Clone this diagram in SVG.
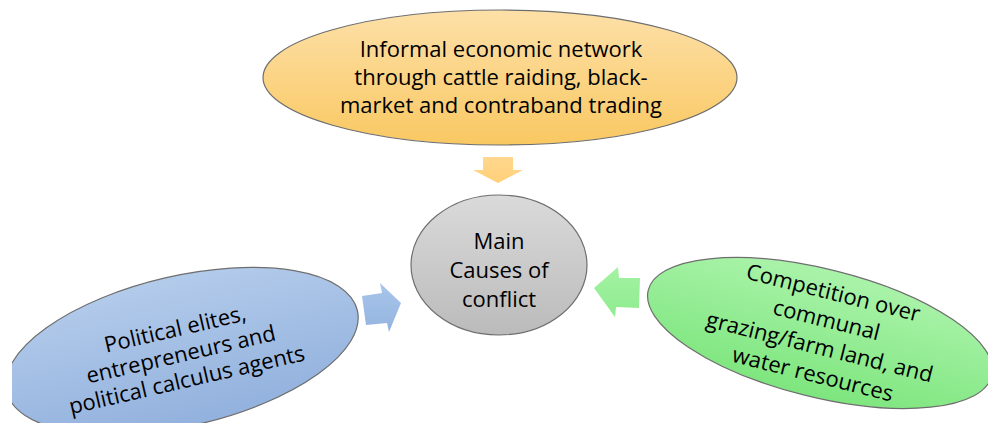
<svg xmlns="http://www.w3.org/2000/svg" width="988" height="423" viewBox="0 0 988 423">
<defs>
<linearGradient id="gOrange" x1="0" y1="0" x2="0" y2="1"><stop offset="0" stop-color="#FDE0A8"/><stop offset="1" stop-color="#F9C862"/></linearGradient>
<linearGradient id="gGray" x1="0" y1="0" x2="0" y2="1"><stop offset="0" stop-color="#DADADA"/><stop offset="1" stop-color="#BBBBBB"/></linearGradient>
<linearGradient id="gBlue" x1="0" y1="0" x2="0" y2="1"><stop offset="0" stop-color="#B3CBEB"/><stop offset="1" stop-color="#92B1DD"/></linearGradient>
<linearGradient id="gGreen" x1="0" y1="0" x2="0" y2="1"><stop offset="0" stop-color="#AAF3AA"/><stop offset="1" stop-color="#7EE67E"/></linearGradient>
<linearGradient id="aOrange" x1="0" y1="0" x2="0" y2="1"><stop offset="0" stop-color="#FFD78E"/><stop offset="1" stop-color="#FFD078"/></linearGradient>
<linearGradient id="aBlue" x1="0" y1="0" x2="0" y2="1"><stop offset="0" stop-color="#A9C5EA"/><stop offset="1" stop-color="#93B4E0"/></linearGradient>
<linearGradient id="aGreen" x1="0" y1="0" x2="0" y2="1"><stop offset="0" stop-color="#A4F2A4"/><stop offset="1" stop-color="#8EEC8E"/></linearGradient>
<clipPath id="clipLeft"><rect x="12" y="0" width="976" height="423"/></clipPath>
</defs>
<style>
.shape{stroke:#6E6E6E;stroke-width:1.2}
.lbl{font-family:"Open Sans","Liberation Sans",sans-serif;font-size:22px;fill:#000;text-anchor:middle}
</style>
<g id="connectors">
<polygon id="arrow-top" fill="url(#aOrange)" points="483,157 513,157 513,170 523,170 498,183 473,170 483,170"/>
<polygon id="arrow-left" fill="url(#aBlue)" points="362,296 382,293 380,283 401,303 389,332 387,323 366,325"/>
<polygon id="arrow-right" fill="url(#aGreen)" points="594,288 618,267 619,278 640,278 639,308 616,307 615,317"/>
</g>
<g id="node-top">
<ellipse class="shape" cx="500" cy="77.5" rx="237" ry="67.5" fill="url(#gOrange)"/>
<text class="lbl" x="501" y="57">Informal economic network</text>
<text class="lbl" x="501" y="85">through cattle raiding, black-</text>
<text class="lbl" x="501" y="113">market and contraband trading</text>
</g>
<g id="node-center">
<ellipse class="shape" cx="499" cy="265" rx="88" ry="70" fill="url(#gGray)"/>
<text class="lbl" x="499" y="249">Main</text>
<text class="lbl" x="499" y="278">Causes of</text>
<text class="lbl" x="499" y="307">conflict</text>
</g>
<g id="node-left">
<g clip-path="url(#clipLeft)">
<ellipse class="shape" cx="182" cy="351" rx="180" ry="75" transform="rotate(-13 182 351)" fill="url(#gBlue)"/>
</g>
<g transform="rotate(-13 181 355)">
<text class="lbl" x="181" y="336">Political elites,</text>
<text class="lbl" x="181" y="362">entrepreneurs and</text>
<text class="lbl" x="181" y="388">political calculus agents</text>
</g>
</g>
<g id="node-right">
<ellipse class="shape" cx="820" cy="333" rx="177" ry="64" transform="rotate(14 820 333)" fill="url(#gGreen)"/>
<g transform="rotate(14 823 334)">
<text class="lbl" x="823" y="299">Competition over</text>
<text class="lbl" x="823" y="327">communal</text>
<text class="lbl" x="823" y="355">grazing/farm land, and</text>
<text class="lbl" x="823" y="383">water resources</text>
</g>
</g>
</svg>
